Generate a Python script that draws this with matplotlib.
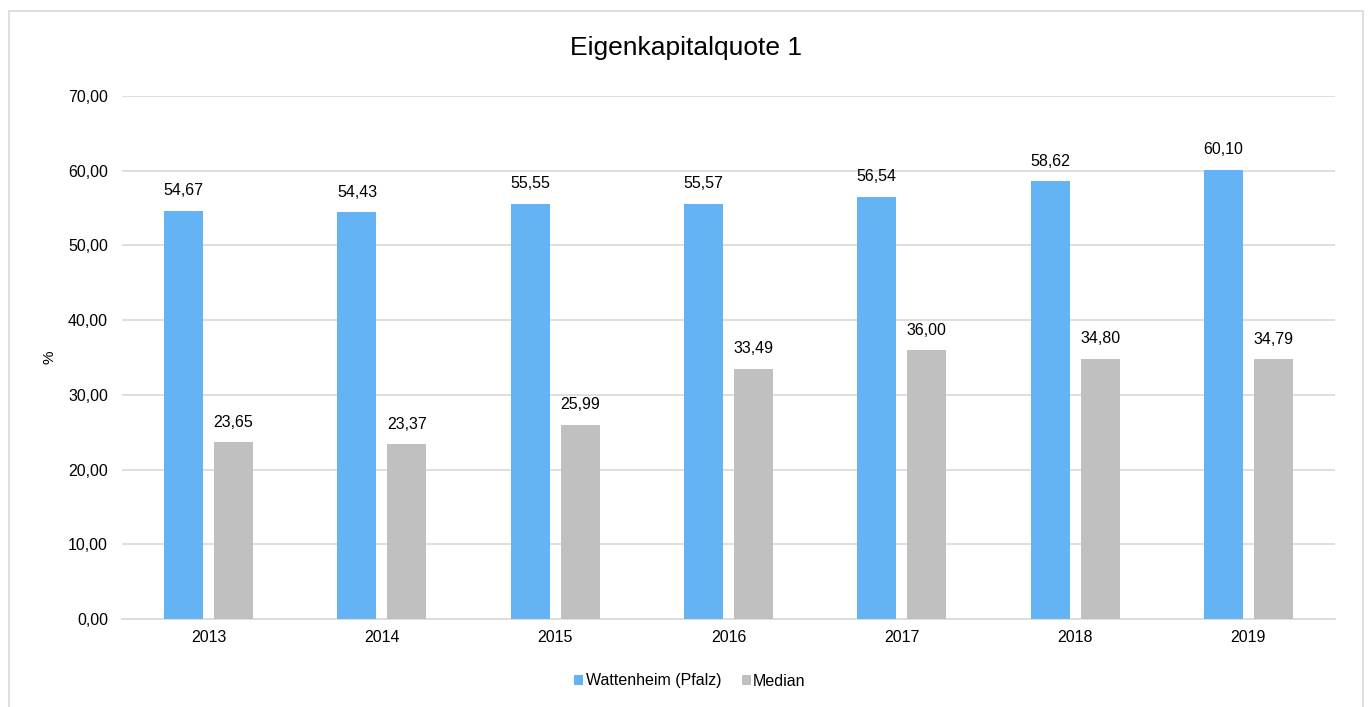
import matplotlib.pyplot as plt
import numpy as np
from matplotlib.patches import Rectangle

plt.rcParams['font.family'] = ['Liberation Sans', 'DejaVu Sans']

years = ['2013', '2014', '2015', '2016', '2017', '2018', '2019']
wattenheim = [54.67, 54.43, 55.55, 55.57, 56.54, 58.62, 60.10]
median = [23.65, 23.37, 25.99, 33.49, 36.00, 34.80, 34.79]

blue = '#63B3F5'
grey = '#C0C0C0'

fig = plt.figure(figsize=(13.68, 7.07), dpi=100)
# Rahmen um das Diagramm
fig.patches.append(Rectangle((9 / 1368, -0.01), 1354 / 1368, 1 - 11 / 707 + 0.01,
                             transform=fig.transFigure, fill=False,
                             edgecolor='#D9D9D9', linewidth=1.2))

ax = fig.add_axes([122 / 1368, 1 - 619 / 707, (1335 - 122) / 1368, (619 - 96) / 707])

x = np.arange(len(years))
w = 0.225
off = 0.144
b1 = ax.bar(x - off, wattenheim, w, color=blue, label='Wattenheim (Pfalz)', zorder=3)
b2 = ax.bar(x + off, median, w, color=grey, label='Median', zorder=3)

def fmt(v):
    return f'{v:.2f}'.replace('.', ',')

for bars, vals in ((b1, wattenheim), (b2, median)):
    for rect, v in zip(bars, vals):
        ax.annotate(fmt(v), (rect.get_x() + rect.get_width() / 2, v),
                    xytext=(0, 9), textcoords='offset points',
                    ha='center', va='bottom', fontsize=11.5, color='#000000')

ax.set_xlim(-0.5, len(years) - 0.5)
ax.set_ylim(0, 70)
ax.set_yticks(np.arange(0, 71, 10))
ax.set_yticklabels([fmt(t) for t in np.arange(0, 71, 10)], fontsize=11.5)
ax.set_xticks(x)
ax.set_xticklabels(years, fontsize=11.5)
ax.tick_params(axis='y', length=0, pad=10)
ax.tick_params(axis='x', length=0, pad=8)
ax.yaxis.grid(True, color='#D9D9D9', linewidth=1.2, zorder=0)
for s in ('top', 'right', 'left'):
    ax.spines[s].set_visible(False)
ax.spines['bottom'].set_color('#D9D9D9')
ax.spines['bottom'].set_linewidth(1.2)
ax.set_ylabel('%', fontsize=11, labelpad=8)

fig.text(686 / 1368, 1 - 48 / 707, 'Eigenkapitalquote 1', ha='center', va='center', fontsize=19)

fig.legend(loc='center', bbox_to_anchor=(690 / 1368, 1 - 681 / 707), ncol=2, frameon=False,
           fontsize=11.5, handlelength=0.55, handleheight=0.55, handletextpad=0.15,
           columnspacing=1.3)

fig.savefig('out.png', dpi=100)
